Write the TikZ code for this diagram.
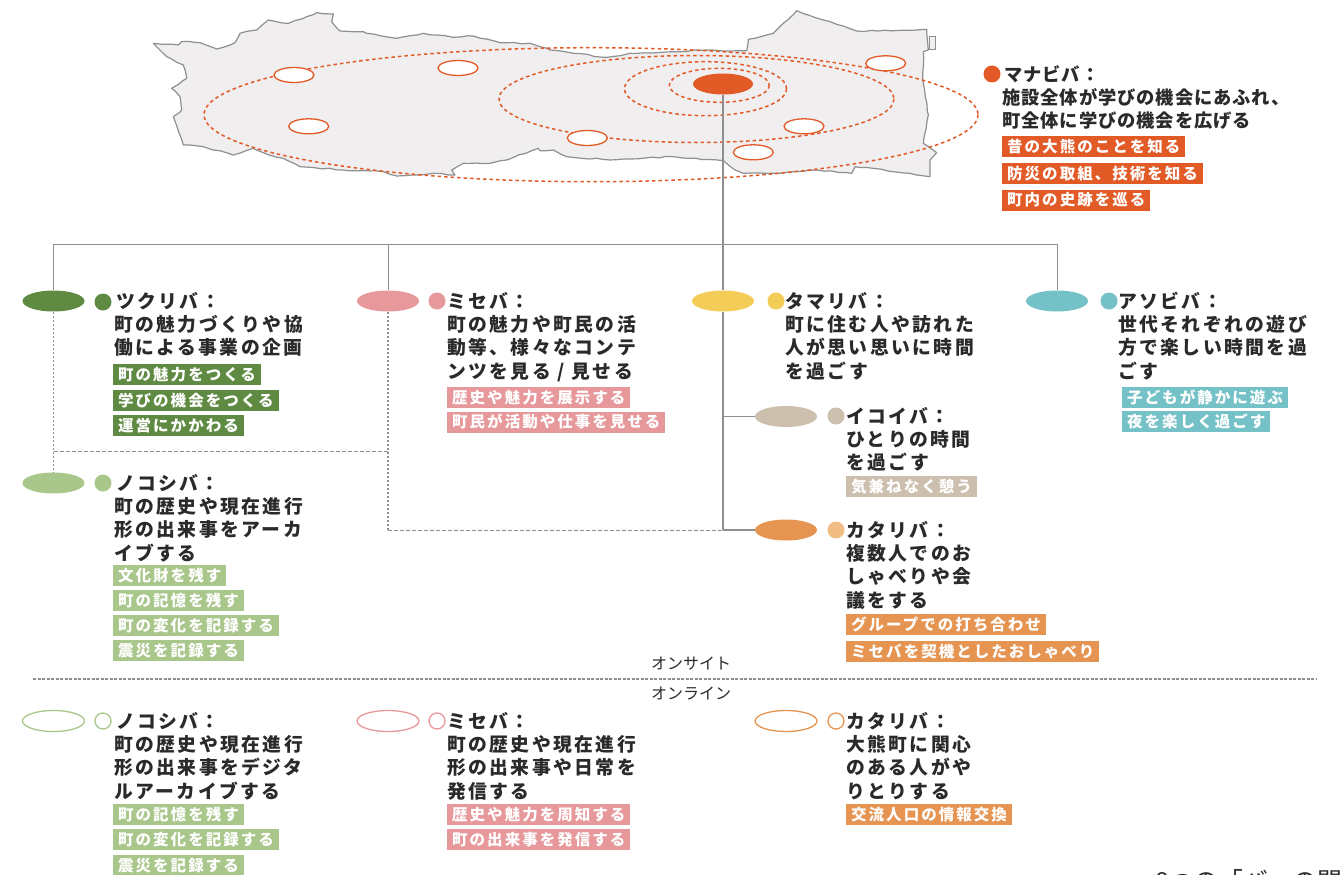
\documentclass[tikz,border=0pt]{standalone}
\usepackage{fontspec}
\usetikzlibrary{shapes.geometric,decorations.pathmorphing}
\newfontfamily\hdfam[LetterSpace=13]{Noto Sans CJK JP}
\newfontfamily\hdtight[LetterSpace=5]{Noto Sans CJK JP}
\newfontfamily\tagfam[LetterSpace=13]{Noto Sans CJK JP}
\newfontfamily\plainfam{Noto Sans CJK JP}
\definecolor{cmana}{HTML}{E25A26}
\definecolor{ctsuku}{HTML}{5F8A42}
\definecolor{cnoko}{HTML}{A9C78B}
\definecolor{cmise}{HTML}{E7989B}
\definecolor{ctama}{HTML}{F3CD57}
\definecolor{casobi}{HTML}{74C2C7}
\definecolor{cikoi}{HTML}{CDBFAD}
\definecolor{ckata}{HTML}{E59451}
\definecolor{ckatal}{HTML}{F2BD85}
\definecolor{cline}{HTML}{8F8F8F}
\definecolor{cmap}{HTML}{F0EEEE}
\definecolor{ctext}{HTML}{2A2A2A}
\tikzset{
  oval/.style={ellipse,fill=#1,minimum width=62pt,minimum height=21pt,inner sep=0pt},
  ring/.style={ellipse,draw=#1,line width=1.3pt,fill=white,minimum width=62pt,minimum height=21pt,inner sep=0pt},
  sitering/.style={ellipse,draw=cmana,line width=1.3pt,fill=white,minimum width=40pt,minimum height=15pt,inner sep=0pt},
  blob/.style={circle,fill=#1,minimum size=17pt,inner sep=0pt},
  blobring/.style={circle,draw=#1,line width=1.3pt,fill=white,minimum size=16pt,inner sep=0pt},
  hd/.style={anchor=north west,yshift=9.3pt,inner sep=0pt,align=left,text=ctext,
    font={\hdfam\bfseries\fontsize{18.8}{23.3}\selectfont}},
  hdt/.style={hd,font={\hdtight\bfseries\fontsize{18.3}{23.3}\selectfont}},
  tagbox/.style={anchor=west,fill=#1,text=white,minimum height=21pt,inner xsep=5pt,inner ysep=0pt,
    text height=13pt,text depth=1.4pt,font={\tagfam\bfseries\fontsize{15.5}{18}\selectfont}},
  zone/.style={draw=cmana,line width=1.5pt,dash pattern=on 3.5pt off 3pt},
  conn/.style={draw=cline,line width=1.8pt},
  thinconn/.style={draw=cline,line width=1pt},
  dashv/.style={draw=cline,line width=1.3pt,dash pattern=on 2pt off 2pt},
  dashh/.style={draw=cline,line width=1pt,dash pattern=on 4pt off 2pt},
  siteline/.style={draw=cline,line width=1.1pt,dash pattern=on 3pt off 1.5pt},
  small/.style={font={\plainfam\fontsize{16}{18}\selectfont},text=ctext,inner sep=0pt}
}
\begin{document}
\begin{tikzpicture}[x=1pt,y=-1pt]
\useasboundingbox (0,0) rectangle (1344,875);
\clip (0,0) rectangle (1344,875);
\fill[white] (0,0) rectangle (1344,875);
% map
\draw[cline,fill=cmap,line width=1pt] (929,37) rectangle (935,50);
\begin{scope}[shift={(140,0)},x=0.33333pt,y=-0.33333pt]
\filldraw[fill=cmap,draw=cline,line width=1.2pt,line join=round,
  decorate,decoration={random steps,segment length=7pt,amplitude=0.7pt}]
 (40,130)--(75,133)--(115,135)--(125,125)--(180,128)--(230,147)--(285,128)--(300,100)--(350,90)--(385,60)--(445,70)--(500,50)--(530,38)--(580,42)--(575,65)--(600,93)--(670,95)--(680,100)--(770,115)--(850,100)--(940,112)--(1000,108)--(1080,128)--(1170,130)--(1200,140)
 --(1230,150)--(1300,160)--(1400,172)--(1470,160)--(1600,155)--(1700,150)--(1820,152)--(1825,118)--(1900,100)--(1930,70)--(1970,32)--(2050,60)--(2150,93)--(2360,88)--(2365,150)--(2350,155)--(2350,250)--(2365,345)--(2350,430)--(2390,458)--(2370,480)--(2370,530)--(2330,525)--(2200,505)--(2145,500)--(2135,520)--(2030,510)--(1900,520)--(1810,520)--(1785,510)--(1750,482)--(1600,470)--(1410,480)--(1280,470)--(1240,450)--(1200,452)
 --(1195,445)--(1100,480)--(1050,490)--(970,490)--(935,510)--(945,525)--(880,520)--(770,528)--(730,515)--(610,510)--(480,500)--(430,475)--(370,458)--(340,445)--(280,465)--(190,440)--(130,435)--(100,350)--(125,330)--(120,290)--(95,265)--(140,235)--(130,195)--(80,170)--cycle;
\end{scope}
% zones
\draw[zone] (719.3,85.3) ellipse [x radius=50,y radius=17];
\draw[zone] (705.5,88.7) ellipse [x radius=81,y radius=27];
\draw[zone] (696.5,99) ellipse [x radius=197.5,y radius=43.5];
\draw[zone] (591,114.7) ellipse [x radius=387,y radius=67];
% sites
\node[sitering] (s1) at (294,75) {};
\node[sitering] (s2) at (458,68) {};
\node[sitering] (s3) at (308.7,126.3) {};
\node[sitering] (s4) at (587.3,138) {};
\node[sitering] (s5) at (753.3,152.3) {};
\node[sitering] (s6) at (804,126.3) {};
\node[sitering] (s7) at (885.7,63.3) {};
\node[oval=cmana,minimum width=60pt] (mana) at (723,84) {};
% onsite ovals
\node[oval=ctsuku] (tsuku) at (53.5,301) {};
\node[oval=cmise] (mise) at (388,301) {};
\node[oval=ctama] (tama) at (723,301) {};
\node[oval=casobi] (asobi) at (1057,301) {};
\node[oval=cnoko] (noko) at (53.5,483) {};
\node[oval=cikoi] (ikoi) at (786,416.5) {};
\node[oval=ckata] (kata) at (786,530) {};
% online ovals
\node[ring=cnoko] (onoko) at (53.5,721) {};
\node[ring=cmise] (omise) at (388,721) {};
\node[ring=ckata] (okata) at (786,721) {};
% junctions
\coordinate (jtop) at (723,244);
\coordinate (jl) at (53.5,244);
\coordinate (jm) at (388,244);
\coordinate (jr) at (1057,244);
\coordinate (jik) at (723,416.5);
\coordinate (jk) at (723,530);
\coordinate (jd1) at (53.5,451);
\coordinate (jd2) at (388,451);
\coordinate (jd3) at (388,530);
\coordinate (sl) at (33,679);
\coordinate (sr) at (1316,679);
% connectors
\draw[dashh] (jd1)--(jd2);
\draw[dashh] (jd3)--(jk);
\draw[dashv] (tsuku.south)--(noko.north);
\draw[dashv] (mise.south)--(jd3);
\draw[conn] (mana.south)--(tama.north);
\draw[conn] (tama.south)--(jk);
\draw[thinconn] (jl)--(jr);
\draw[thinconn] (jl)--(tsuku.north);
\draw[thinconn] (jm)--(mise.north);
\draw[thinconn] (jr)--(asobi.north);
\draw[thinconn] (jik)--(ikoi.west);
\draw[conn] (jk)--(kata.west);
\draw[siteline] (sl)--(sr);
% dots
\node[blob=cmana] (dmana) at (992,74) {};
\node[blob=ctsuku] (dtsuku) at (103,302) {};
\node[blob=cmise] (dmise) at (437,301) {};
\node[blob=ctama] (dtama) at (776,301) {};
\node[blob=casobi] (dasobi) at (1109,301) {};
\node[blob=cnoko] (dnoko) at (103,483) {};
\node[blob=cikoi] (dikoi) at (836,416) {};
\node[blob=ckatal] (dkata) at (836,530) {};
\node[blobring=cnoko] (donoko) at (103,721) {};
\node[blobring=cmise] (domise) at (437,721) {};
\node[blobring=ckata] (dokata) at (836,721) {};
% headings
\node[hdt] (hmana) at (1002,74) {\strut\hspace{2pt}マナビバ：\\施設全体が学びの機会にあふれ、\\町全体に学びの機会を広げる};
\node[hd] (htsuku) at (114,301) {\strut\hspace{2pt}ツクリバ：\\町の魅力づくりや協\\働による事業の企画};
\node[hd] (hmise) at (447,301) {\strut ミセバ：\\町の魅力や町民の活\\動等、様々なコンテ\\ンツを見る / 見せる};
\node[hd] (htama) at (785,301) {\strut タマリバ：\\町に住む人や訪れた\\人が思い思いに時間\\を過ごす};
\node[hd] (hasobi) at (1118,301) {\strut アソビバ：\\世代それぞれの遊び\\方で楽しい時間を過\\ごす};
\node[hd] (hnoko) at (114,483) {\strut\hspace{2pt}ノコシバ：\\町の歴史や現在進行\\形の出来事をアーカ\\イブする};
\node[hd] (hikoi) at (846,416) {\strut イコイバ：\\ひとりの時間\\を過ごす};
\node[hd] (hkata) at (846,530) {\strut カタリバ：\\複数人でのお\\しゃべりや会\\議をする};
\node[hd] (honoko) at (114,721) {\strut\hspace{2pt}ノコシバ：\\町の歴史や現在進行\\形の出来事をデジタ\\ルアーカイブする};
\node[hd] (homise) at (447,721) {\strut ミセバ：\\町の歴史や現在進行\\形の出来事や日常を\\発信する};
\node[hd] (hokata) at (846,721) {\strut カタリバ：\\大熊町に関心\\のある人がや\\りとりする};
% tags
\node[tagbox=cmana] (t1) at (1002,146.5) {昔の大熊のことを知る};
\node[tagbox=cmana] (t2) at (1002,173.5) {防災の取組、技術を知る};
\node[tagbox=cmana] (t3) at (1002,200) {町内の史跡を巡る};
\node[tagbox=ctsuku] (t4) at (113,374.5) {町の魅力をつくる};
\node[tagbox=ctsuku] (t5) at (113,400.5) {学びの機会をつくる};
\node[tagbox=ctsuku] (t6) at (113,425.5) {運営にかかわる};
\node[tagbox=cmise] (t7) at (447,397.5) {歴史や魅力を展示する};
\node[tagbox=cmise] (t8) at (447,422) {町民が活動や仕事を見せる};
\node[tagbox=casobi] (t9) at (1122,397.5) {子どもが静かに遊ぶ};
\node[tagbox=casobi] (t10) at (1122,421.5) {夜を楽しく過ごす};
\node[tagbox=cnoko] (t11) at (113,575.5) {文化財を残す};
\node[tagbox=cnoko] (t12) at (113,600.5) {町の記憶を残す};
\node[tagbox=cnoko] (t13) at (113,625.5) {町の変化を記録する};
\node[tagbox=cnoko] (t14) at (113,650.5) {震災を記録する};
\node[tagbox=cikoi] (t15) at (846,486.5) {気兼ねなく憩う};
\node[tagbox=ckata] (t16) at (846,624.5) {グループでの打ち合わせ};
\node[tagbox=ckata] (t17) at (846,651.5) {ミセバを契機としたおしゃべり};
\node[tagbox=cnoko] (t18) at (113,814.5) {町の記憶を残す};
\node[tagbox=cnoko] (t19) at (113,839.5) {町の変化を記録する};
\node[tagbox=cnoko] (t20) at (113,865.5) {震災を記録する};
\node[tagbox=cmise] (t21) at (447,814.5) {歴史や魅力を周知する};
\node[tagbox=cmise] (t22) at (447,839.5) {町の出来事を発信する};
\node[tagbox=ckata] (t23) at (846,814.5) {交流人口の情報交換};
% labels
\node[small] (lon) at (691,664) {オンサイト};
\node[small] (lof) at (691,694) {オンライン};
\node[anchor=base west,inner sep=0pt,text=ctext,font={\plainfam\fontsize{24.8}{28}\selectfont}] (cap) at (1155,890) {8つの「バ」の関};
\end{tikzpicture}
\end{document}
